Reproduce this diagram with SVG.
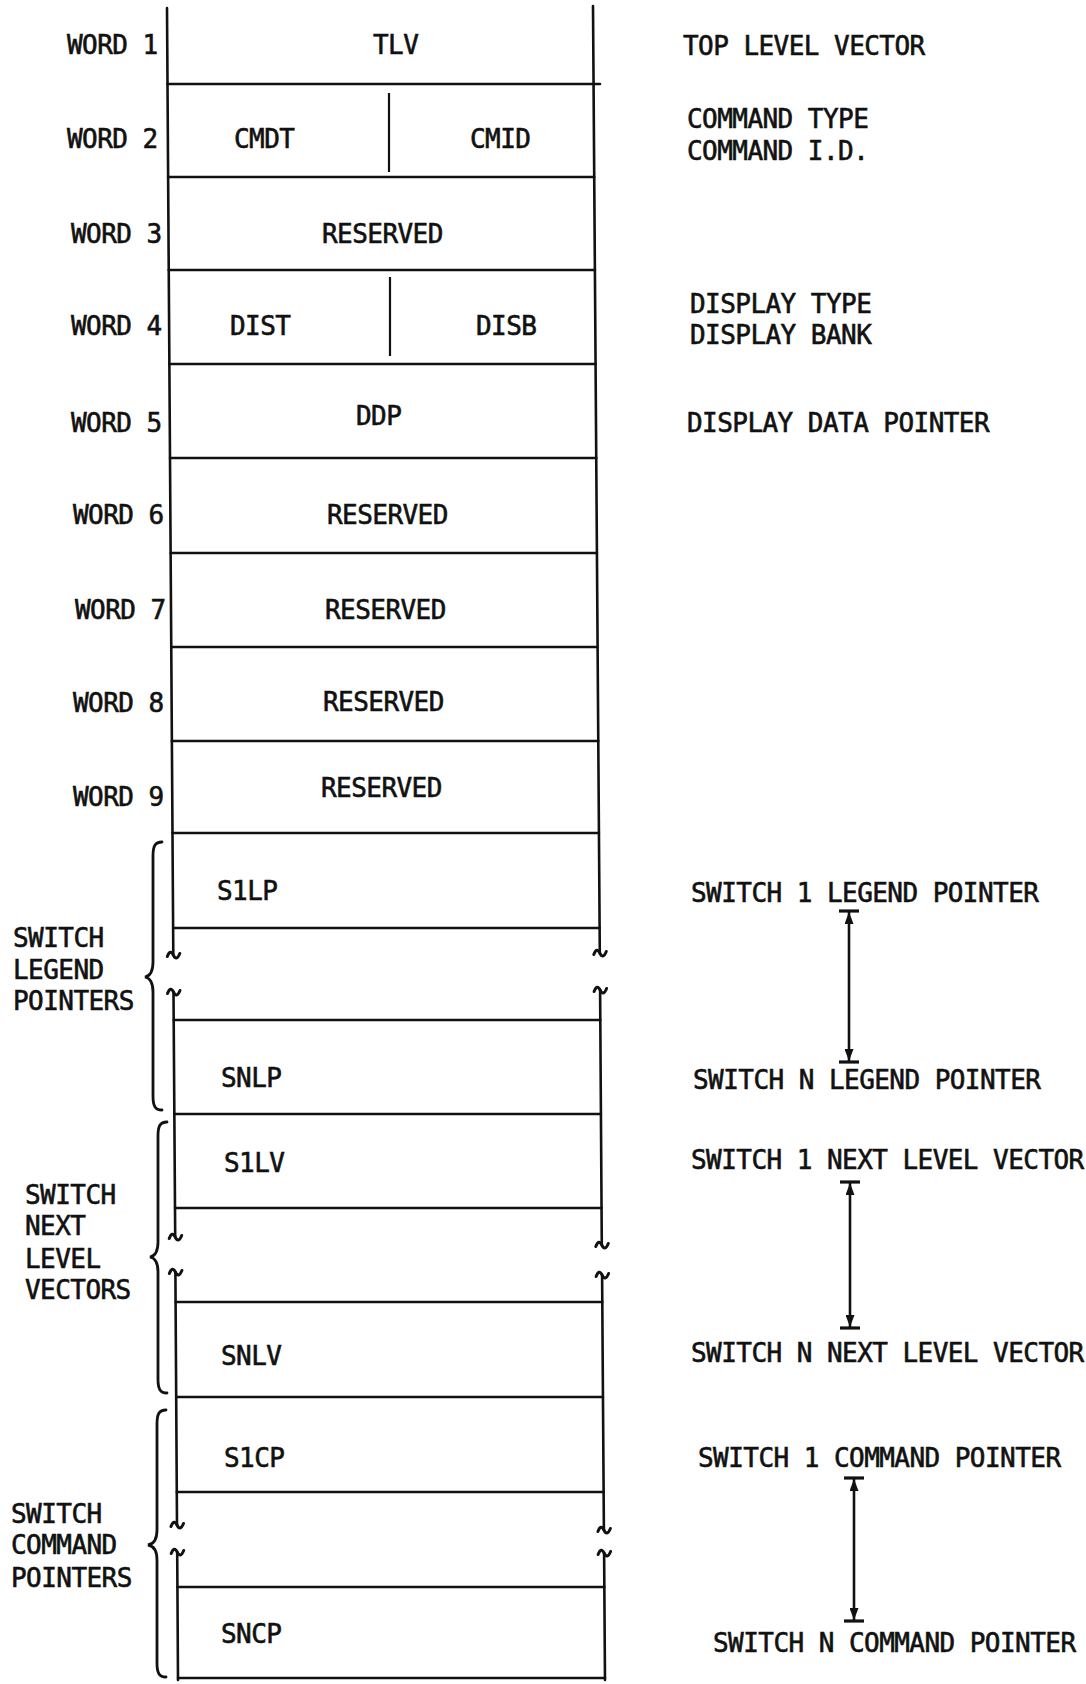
<svg xmlns="http://www.w3.org/2000/svg" xmlns:xlink="http://www.w3.org/1999/xlink" width="1086" height="1684" viewBox="0 0 1086 1684">
<style>
  text { font-family: "DejaVu Sans Mono", "Liberation Mono", monospace; font-size: 26px; letter-spacing: -0.55px; fill: #111; stroke: #111; stroke-width: 0.6px; }
  .ln { stroke: #111; stroke-width: 2.6; fill: none; stroke-linecap: round; }
  .thin { stroke: #111; stroke-width: 2.2; fill: none; }
  .brace { stroke: #111; stroke-width: 2.8; fill: none; stroke-linecap: round; }
  .arr { stroke: #111; stroke-width: 2.6; fill: none; }
  .bar { stroke: #111; stroke-width: 3.2; }
</style>
<defs>
  <path id="brk" d="M-6,1.5 C-4,-4 -2,-4 0,0 S4,4.5 6.5,-1.5" stroke="#111" stroke-width="3" fill="none" stroke-linecap="round"/>
  <marker id="ah" viewBox="0 0 12 9" refX="12" refY="4.5" markerWidth="12" markerHeight="9" markerUnits="userSpaceOnUse" orient="auto-start-reverse">
    <path d="M0,0 L12,4.5 L0,9 z" fill="#111"/>
  </marker>
</defs>
<rect width="1086" height="1684" fill="#fff"/>

<g id="grid">
  <!-- outer verticals with breaks -->
  <path class="ln" d="M167,8 L173.3,955 M173.5,992 L175.2,1237 M175.4,1272 L177,1525 M177.2,1552 L178,1680"/>
  <path class="ln" d="M593,6 L599.8,953 M600.1,990 L601.8,1245 M602.1,1275 L603.9,1530 M604.1,1553 L605,1680"/>
  <!-- break marks -->
  <use xlink:href="#brk" x="173.3" y="955"/>
  <use xlink:href="#brk" x="173.5" y="992"/>
  <use xlink:href="#brk" x="599.8" y="953"/>
  <use xlink:href="#brk" x="600.1" y="990"/>
  <use xlink:href="#brk" x="175.2" y="1237"/>
  <use xlink:href="#brk" x="175.4" y="1272"/>
  <use xlink:href="#brk" x="601.8" y="1245"/>
  <use xlink:href="#brk" x="602.1" y="1275"/>
  <use xlink:href="#brk" x="177" y="1525"/>
  <use xlink:href="#brk" x="177.2" y="1552"/>
  <use xlink:href="#brk" x="603.9" y="1530"/>
  <use xlink:href="#brk" x="604.1" y="1553"/>
  <!-- horizontal row lines -->
  <path class="ln" d="M167.5,84 L600,84 M168.1,177 L594.2,177 M168.7,270 L594.9,270 M169.3,364 L595.6,364 M170,458 L596.3,458 M170.6,553 L596.9,553 M171.2,647 L597.6,647 M171.8,741 L598.3,741 M172.4,833 L598.9,833 M173.1,928 L599.6,928 M173.7,1020 L600.3,1020 M174.3,1114 L600.9,1114 M175,1208 L601.6,1208 M175.6,1302 L602.3,1302 M176.2,1397 L603,1397 M176.8,1492 L603.7,1492 M177.4,1587 L604.3,1587 M178,1678 L605,1678"/>
  <!-- field dividers -->
  <path class="thin" d="M389,93 L389,172 M390,277 L390,356"/>
</g>

<g id="word1"><text x="67" y="54">WORD 1</text><text x="373" y="54">TLV</text></g>
<g id="word2"><text x="67" y="148">WORD 2</text><text x="234" y="148">CMDT</text><text x="470" y="148">CMID</text></g>
<g id="word3"><text x="71" y="243">WORD 3</text><text x="322" y="243">RESERVED</text></g>
<g id="word4"><text x="71" y="335">WORD 4</text><text x="230" y="335">DIST</text><text x="476" y="335">DISB</text></g>
<g id="word5"><text x="71" y="432">WORD 5</text><text x="356" y="425">DDP</text></g>
<g id="word6"><text x="73" y="524">WORD 6</text><text x="327" y="524">RESERVED</text></g>
<g id="word7"><text x="75" y="619">WORD 7</text><text x="325" y="619">RESERVED</text></g>
<g id="word8"><text x="73" y="712">WORD 8</text><text x="323" y="711">RESERVED</text></g>
<g id="word9"><text x="73" y="806">WORD 9</text><text x="321" y="797">RESERVED</text></g>
<g id="s1lp"><text x="217" y="900">S1LP</text></g>
<g id="snlp"><text x="221" y="1087">SNLP</text></g>
<g id="s1lv"><text x="224" y="1172">S1LV</text></g>
<g id="snlv"><text x="221" y="1365">SNLV</text></g>
<g id="s1cp"><text x="224" y="1467">S1CP</text></g>
<g id="sncp"><text x="221" y="1643">SNCP</text></g>

<g id="descriptions">
  <text x="683" y="55">TOP LEVEL VECTOR</text>
  <text x="687" y="128">COMMAND TYPE</text>
  <text x="687" y="160">COMMAND I.D.</text>
  <text x="690" y="313">DISPLAY TYPE</text>
  <text x="690" y="344">DISPLAY BANK</text>
  <text x="687" y="432">DISPLAY DATA POINTER</text>
  <text x="691" y="902">SWITCH 1 LEGEND POINTER</text>
  <text x="693" y="1089">SWITCH N LEGEND POINTER</text>
  <text x="691" y="1169">SWITCH 1 NEXT LEVEL VECTOR</text>
  <text x="691" y="1362">SWITCH N NEXT LEVEL VECTOR</text>
  <text x="698" y="1467">SWITCH 1 COMMAND POINTER</text>
  <text x="713" y="1652">SWITCH N COMMAND POINTER</text>
</g>

<g id="groups">
  <path class="brace" d="M162,842 C155,842 153,846 153,856 L153,962 C153,972 150,976 145,977 C150,978 153,982 153,992 L153,1096 C153,1106 155,1110 162,1110"/>
  <text x="13" y="947">SWITCH</text>
  <text x="13" y="979">LEGEND</text>
  <text x="13" y="1010">POINTERS</text>
  <path class="brace" d="M167,1122 C160,1122 158,1126 158,1136 L158,1242 C158,1252 155,1256 150,1257 C155,1258 158,1262 158,1272 L158,1379 C158,1389 160,1393 167,1393"/>
  <text x="25" y="1204">SWITCH</text>
  <text x="25" y="1235">NEXT</text>
  <text x="25" y="1268">LEVEL</text>
  <text x="25" y="1299">VECTORS</text>
  <path class="brace" d="M166,1410 C159,1410 157,1414 157,1424 L157,1530 C157,1540 154,1544 148,1545 C154,1546 157,1550 157,1560 L157,1663 C157,1673 159,1677 166,1677"/>
  <text x="11" y="1523">SWITCH</text>
  <text x="11" y="1554">COMMAND</text>
  <text x="11" y="1587">POINTERS</text>
</g>

<g id="connectors">
  <line class="arr" x1="849" y1="912" x2="849" y2="1061" marker-start="url(#ah)" marker-end="url(#ah)"/>
  <line class="bar" x1="839" y1="911" x2="859" y2="911"/>
  <line class="bar" x1="839" y1="1062" x2="859" y2="1062"/>
  <line class="arr" x1="850" y1="1183" x2="850" y2="1327" marker-start="url(#ah)" marker-end="url(#ah)"/>
  <line class="bar" x1="840" y1="1182" x2="860" y2="1182"/>
  <line class="bar" x1="840" y1="1328" x2="860" y2="1328"/>
  <line class="arr" x1="854" y1="1479" x2="854" y2="1620" marker-start="url(#ah)" marker-end="url(#ah)"/>
  <line class="bar" x1="844" y1="1478" x2="864" y2="1478"/>
  <line class="bar" x1="844" y1="1621" x2="864" y2="1621"/>
</g>
</svg>
